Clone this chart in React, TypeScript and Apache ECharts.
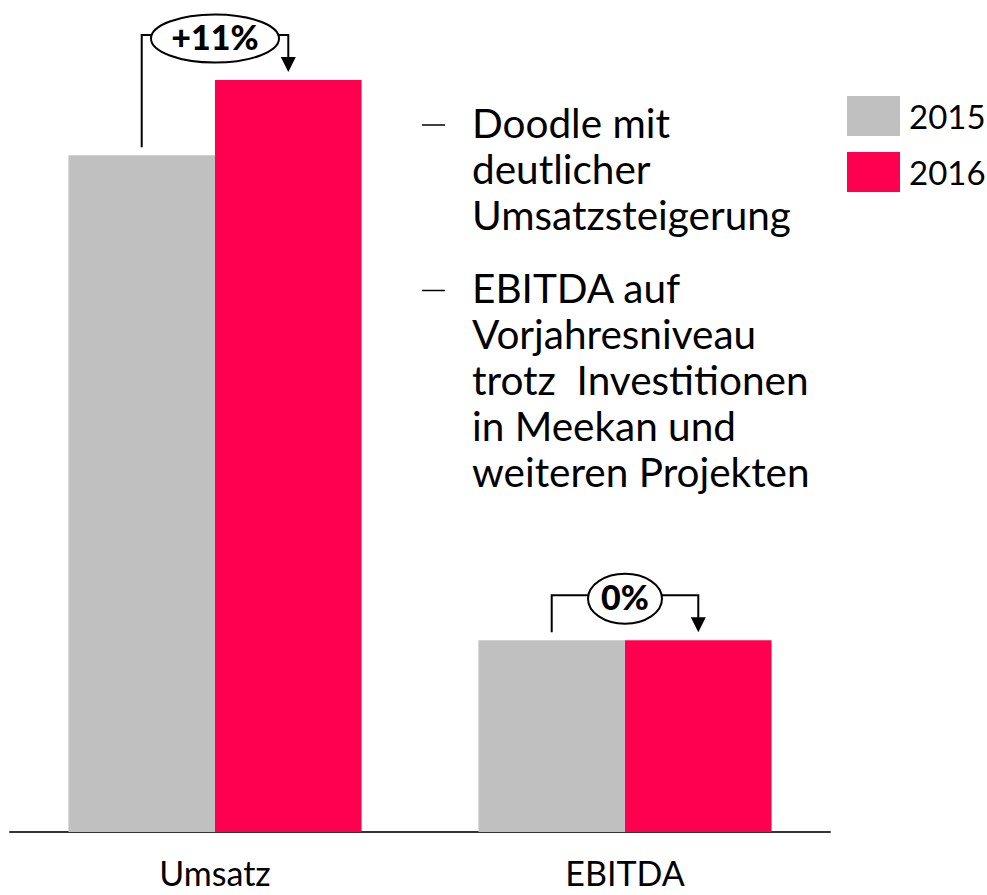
import React, { useEffect, useRef } from "react";
import * as echarts from "echarts";

const categories = ["Umsatz", "EBITDA"];
const seriesNames = ["2015", "2016"];
const values2015 = [18.0, 5.1];
const values2016 = [20.0, 5.1];
const changeLabels = ["+11%", "0%"];
const bulletBlocks = [
  ["Doodle mit", "deutlicher", "Umsatzsteigerung"],
  ["EBITDA auf", "Vorjahresniveau", "trotz  Investitionen", "in Meekan und", "weiteren Projekten"],
];

const GRAY = "#C0C0C0";
const RED = "#FF0050";
const FONT = "Lato, 'Noto Sans', sans-serif";
const ellipseRx = [64, 37];
const ellipseRy = [24, 25];
const barCatGap = 0.285;

export default function App() {
  const ref = useRef<HTMLDivElement>(null);
  useEffect(() => {
    if (!ref.current) return;
    const chart = echarts.init(ref.current, null, { renderer: "svg" });
    chart.setOption({
      animation: false,
      backgroundColor: "#fff",
      grid: { left: 10, right: 157, top: 80, bottom: 63, containLabel: false },
      legend: {
        orient: "vertical",
        left: 847,
        top: 96,
        padding: 0,
        itemWidth: 53,
        itemHeight: 40,
        itemGap: 16,
        icon: "rect",
        textStyle: { fontSize: 33, fontFamily: FONT, color: "#000", padding: [0, 0, 0, 4] },
        data: seriesNames,
      },
      xAxis: {
        type: "category",
        data: categories,
        axisLine: { lineStyle: { color: "#333", width: 2 } },
        axisTick: { show: false },
        axisLabel: { fontSize: 34, lineHeight: 34, fontFamily: FONT, color: "#000", margin: 23 },
      },
      yAxis: { type: "value", min: 0, max: 20, show: false, splitLine: { show: false } },
      series: [
        {
          name: seriesNames[0],
          type: "bar",
          data: values2015,
          itemStyle: { color: GRAY },
          barGap: "0%",
          barCategoryGap: barCatGap * 100 + "%",
        },
        {
          name: seriesNames[1],
          type: "bar",
          data: values2016,
          itemStyle: { color: RED },
          barGap: "0%",
          barCategoryGap: barCatGap * 100 + "%",
        },
      ],
    });

    const graphics: any[] = [];
    const x0 = chart.convertToPixel({ xAxisIndex: 0 }, 0) as number;
    const x1 = chart.convertToPixel({ xAxisIndex: 0 }, 1) as number;
    const band = x1 - x0;
    const barW = (band * (1 - barCatGap)) / 2;
    categories.forEach((_, i) => {
      const cx = chart.convertToPixel({ xAxisIndex: 0 }, i) as number;
      const gx = cx - barW / 2;
      const rx = cx + barW / 2;
      const yg = chart.convertToPixel({ yAxisIndex: 0 }, values2015[i]) as number;
      const yr = chart.convertToPixel({ yAxisIndex: 0 }, values2016[i]) as number;
      const top = Math.min(yg, yr);
      const hy = top - 45;
      const erx = ellipseRx[i];
      const ery = ellipseRy[i];
      const ls = { stroke: "#000", lineWidth: 2, fill: null };
      graphics.push({
        type: "polyline",
        shape: { points: [[gx, yg - 8], [gx, hy], [cx - erx, hy]] },
        style: ls,
      });
      graphics.push({
        type: "polyline",
        shape: { points: [[cx + erx, hy], [rx, hy], [rx, yr - 22]] },
        style: ls,
      });
      graphics.push({
        type: "polygon",
        shape: { points: [[rx - 7.5, yr - 23], [rx + 7.5, yr - 23], [rx, yr - 8]] },
        style: { fill: "#000" },
      });
      graphics.push({
        type: "ellipse",
        shape: { cx, cy: hy + 3.5, rx: erx, ry: ery },
        style: { fill: "#fff", stroke: "#000", lineWidth: 2 },
      });
      graphics.push({
        type: "text",
        x: cx,
        y: hy + 1,
        style: {
          text: changeLabels[i],
          fontSize: 34,
          fontWeight: 900,
          fontFamily: FONT,
          fill: "#000",
          align: "center",
          verticalAlign: "middle",
        },
      });
    });

    const blockStarts = [122, 287.5];
    const lineStep = 46;
    bulletBlocks.forEach((lines, b) => {
      graphics.push({
        type: "line",
        shape: { x1: 422, y1: blockStarts[b] + 3, x2: 445, y2: blockStarts[b] + 3 },
        style: { stroke: "#000", lineWidth: 1.5 },
      });
      lines.forEach((t, j) => {
        graphics.push({
          type: "text",
          x: 472,
          y: blockStarts[b] + j * lineStep,
          style: {
            text: t,
            fontSize: 40.5,
            fontFamily: FONT,
            fill: "#000",
            align: "left",
            verticalAlign: "middle",
          },
        });
      });
    });

    chart.setOption({ graphic: { elements: graphics } });
    return () => chart.dispose();
  }, []);
  return (
    <div
      ref={ref}
      style={{ position: "fixed", left: 0, top: 0, width: 987, height: 895 }}
    />
  );
}
